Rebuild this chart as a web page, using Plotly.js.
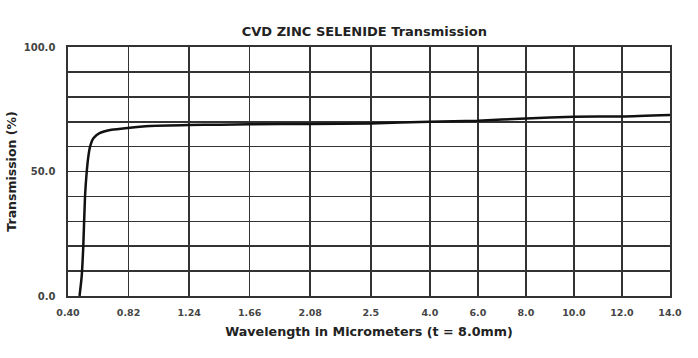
<!DOCTYPE html>
<html><head><meta charset="utf-8">
<script src="https://cdn.plot.ly/plotly-3.0.1.min.js"></script>
<style>html,body{margin:0;padding:0;background:#fff;}</style>
</head><body><div id="chart" style="width:698px;height:358px;"></div>
<script>
// Tick wavelengths (micrometers) and their labels
const tickWavelengths = [0.40, 0.82, 1.24, 1.66, 2.08, 2.5, 4.0, 6.0, 8.0, 10.0, 12.0, 14.0];
const tickLabels = ["0.40", "0.82", "1.24", "1.66", "2.08", "2.5", "4.0", "6.0", "8.0", "10.0", "12.0", "14.0"];
// Transmission curve
const wavelength = [0.48, 0.495, 0.506, 0.518, 0.530, 0.541, 0.553, 0.576, 0.622, 0.692, 0.782, 0.969, 1.24, 1.45, 1.66, 2.08, 2.5, 4.0, 6.0, 8.0, 10.0, 12.0, 14.0];
const transmission = [0, 8, 20, 40, 50, 56, 60, 63.4, 65.5, 66.7, 67.3, 68.3, 68.7, 68.8, 69.0, 69.1, 69.3, 70.0, 70.4, 71.3, 72.0, 72.1, 72.7];
const yTicks = [0, 10, 20, 30, 40, 50, 60, 70, 80, 90, 100];
const yLabels = ["0.0", "", "", "", "", "50.0", "", "", "", "", "100.0"];

// The chart's wavelength scale is piecewise: evenly spaced ticks up to 2.5 µm,
// a slightly narrower segment to 4.0 µm, and narrower 2 µm steps beyond.
const segWidth = [1, 1, 1, 1, 1, 0.975, 0.793, 0.793, 0.793, 0.793, 0.793];
const tickPos = [0];
segWidth.forEach(w => tickPos.push(tickPos[tickPos.length - 1] + w));
function mapX(l) {
  for (let i = 0; i < tickWavelengths.length - 1; i++) {
    const a = tickWavelengths[i], b = tickWavelengths[i + 1];
    if (l <= b || i === tickWavelengths.length - 2) {
      return tickPos[i] + (l - a) / (b - a) * (tickPos[i + 1] - tickPos[i]);
    }
  }
}

const trace = {
  x: wavelength.map(mapX), y: transmission, type: 'scatter', mode: 'lines',
  line: {color: '#111', width: 2.5, shape: 'spline', smoothing: 0.6}, hoverinfo: 'skip'
};
const font = "'DejaVu Sans', sans-serif";
const layout = {
  width: 698, height: 358,
  margin: {l: 68, r: 28, t: 47, b: 62},
  paper_bgcolor: '#fff', plot_bgcolor: '#fff',
  showlegend: false,
  title: {text: '<b>CVD ZINC SELENIDE Transmission</b>', x: 0.522, xanchor: 'center', y: 0.913, yanchor: 'middle',
          font: {family: font, size: 13, color: '#222'}},
  xaxis: {
    range: [tickPos[0], tickPos[tickPos.length - 1]], tickmode: 'array',
    tickvals: tickPos, ticktext: tickLabels.map(t => '<b>' + t + '</b>'),
    showgrid: true, gridcolor: '#333', gridwidth: 1.6, zeroline: false,
    showline: true, mirror: true, linecolor: '#333', linewidth: 1.6,
    ticks: '', ticklabelstandoff: 7,
    tickfont: {family: font, size: 9.5, color: '#444'},
    title: {text: '<b>Wavelength in Micrometers (t = 8.0mm)</b>', standoff: 10, font: {family: font, size: 12.7, color: '#222'}}
  },
  yaxis: {
    range: [0, 100], tickmode: 'array', tickvals: yTicks, ticktext: yLabels.map(t => t ? '<b>' + t + '</b>' : ''),
    showgrid: true, gridcolor: '#333', gridwidth: 1.6, zeroline: false,
    showline: true, mirror: true, linecolor: '#333', linewidth: 1.6,
    ticks: '', ticklabelstandoff: 9,
    tickfont: {family: font, size: 10, color: '#444'},
    title: {text: '<b>Transmission (%)</b>', standoff: 4, font: {family: font, size: 12.5, color: '#222'}}
  }
};
Plotly.newPlot('chart', [trace], layout, {displayModeBar: false, staticPlot: true});
</script>
</body></html>
